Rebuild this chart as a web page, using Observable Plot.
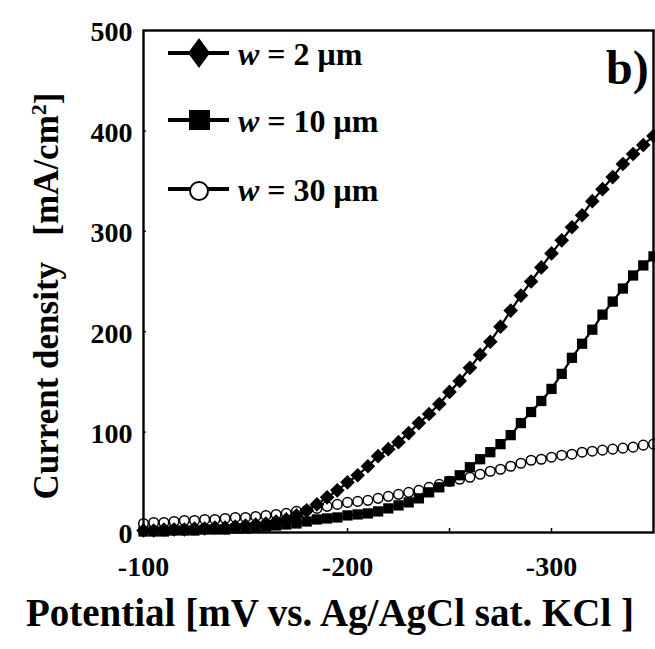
<!DOCTYPE html>
<html><head><meta charset="utf-8">
<script src="https://cdn.jsdelivr.net/npm/d3@7"></script>
<script src="https://cdn.jsdelivr.net/npm/@observablehq/plot@0.6"></script>
<style>body{margin:0;background:#fff}</style>
</head><body><div id="chart"></div>
<script>
// Potential [mV vs. Ag/AgCl sat. KCl]
const potential = [-100,-105,-110,-115,-120,-125,-130,-135,-140,-145,-150,-155,-160,-165,-170,-175,-180,-185,-190,-195,-200,-205,-210,-215,-220,-225,-230,-235,-240,-245,-250,-255,-260,-265,-270,-275,-280,-285,-290,-295,-300,-305,-310,-315,-320,-325,-330,-335,-340,-345,-350];
// Current density [mA/cm2]
const w2  = [2,2,3,3,3,4,4,5,5,6,7,8,9,11,13,17,22,28,35,42,50,57,66,76,83,90,99,109,118,128,140,151,164,177,190,205,221,236,250,264,278,291,304,316,330,342,354,367,377,386,395];
const w10 = [1,1,1,2,2,2,3,3,3,4,4,5,6,7,8,9,11,13,14,15,17,18,19,21,24,27,30,34,40,45,51,57,65,73,80,88,97,109,120,131,143,158,174,188,202,217,230,243,256,266,275];
const w30 = [9,10,10,11,12,12,13,13,14,15,15,16,17,18,19,21,22,24,26,28,30,31,32,34,36,38,40,42,45,48,51,53,55,58,61,63,66,69,72,73,75,77,78,80,81,82,83,84,85,87,88];

const seriesLabels = ["2", "10", "30"];
const xTickLabels = [-100, -200, -300];
const xTickMarks = [-150, -200, -250, -300];
const yTickLabels = [0, 100, 200, 300, 400, 500];
const yTickMarks = [100, 200, 300, 400];

const toRows = arr => potential.map((p, i) => ({p, v: arr[i]}));
const d2 = toRows(w2), d10 = toRows(w10), d30 = toRows(w30);

const font = "'Liberation Serif', 'Times New Roman', serif";

const plot = Plot.plot({
  width: 655, height: 649,
  marginLeft: 143, marginRight: 2, marginTop: 30, marginBottom: 117,
  style: {fontFamily: font, fontWeight: "bold", background: "white", color: "black"},
  x: {domain: [-100, -350]},
  y: {domain: [0, 500]},
  marks: [
    Plot.axisX({ticks: xTickLabels, tickSize: 0, tickPadding: 24, fontSize: 28, label: null, tickFormat: d => String(d)}),
    Plot.axisY({ticks: yTickLabels, tickSize: 0, tickPadding: 11, dy: 2, fontSize: 28, label: null, tickFormat: d => String(d)}),
    Plot.ruleX(xTickMarks, {x: d => d, y1: 0, y2: 4, stroke: "black", strokeWidth: 1.5}),
    Plot.ruleY(yTickMarks, {y: d => d, x1: -100, x2: -101.5, stroke: "black", strokeWidth: 1.2}),
    Plot.line(d30, {x: "p", y: "v", stroke: "black", strokeWidth: 2}),
    Plot.dot(d30, {x: "p", y: "v", symbol: "circle", r: 4.8, fill: "white", stroke: "black", strokeWidth: 1.5}),
    Plot.line(d10, {x: "p", y: "v", stroke: "black", strokeWidth: 2.2}),
    Plot.dot(d10, {x: "p", y: "v", symbol: "square", r: 5.8, fill: "black", stroke: "none"}),
    Plot.line(d2, {x: "p", y: "v", stroke: "black", strokeWidth: 2.2}),
    Plot.dot(d2, {x: "p", y: "v", symbol: "diamond2", r: 6.6, fill: "black", stroke: "none"}),
    Plot.frame({stroke: "black", strokeWidth: 2.4})
  ]
});

const svg = d3.select(plot);
// Legend
const legendY = [53, 120, 189];
const lg = svg.append("g").attr("font-family", font).attr("font-weight", "bold").attr("text-anchor", "start");
seriesLabels.forEach((lab, i) => {
  const y = legendY[i];
  lg.append("line").attr("x1", 168).attr("x2", 229).attr("y1", y).attr("y2", y)
    .attr("stroke", "black").attr("stroke-width", 4);
  if (i === 0) {
    lg.append("path").attr("d", `M199,${y-15}L210,${y}L199,${y+15}L188,${y}Z`).attr("fill", "black");
  } else if (i === 1) {
    lg.append("rect").attr("x", 189).attr("y", y - 10).attr("width", 21).attr("height", 20).attr("fill", "black");
  } else {
    lg.append("circle").attr("cx", 199).attr("cy", y + 2).attr("r", 9).attr("fill", "white")
      .attr("stroke", "black").attr("stroke-width", 2);
  }
  const t = lg.append("text").attr("x", 238).attr("y", y + 12).attr("font-size", 32).attr("text-anchor", "start");
  t.append("tspan").attr("font-style", "italic").text("w");
  t.append("tspan").text(" = " + lab + " \u03bcm");
});
// panel tag
svg.append("text").attr("x", 606).attr("y", 84).attr("font-family", font).attr("text-anchor", "start")
  .attr("font-weight", "bold").attr("font-size", 48).text("b)");
// y label
const yl = svg.append("text").attr("transform", "translate(58,296) rotate(-90)")
  .attr("text-anchor", "middle").attr("font-family", font).attr("font-weight", "bold")
  .attr("font-size", 35);
yl.append("tspan").text("Current density\u00a0\u00a0 [mA/cm");
yl.append("tspan").attr("font-size", 22).attr("dy", "-0.55em").text("2");
yl.append("tspan").attr("dy", "0.37em").text("]");
// x label
svg.append("text").attr("x", 330).attr("y", 626).attr("text-anchor", "middle")
  .attr("font-family", font).attr("font-weight", "bold").attr("font-size", 39)
  .text("Potential [mV vs. Ag/AgCl sat. KCl ]");

document.getElementById("chart").appendChild(plot);
</script>
</body></html>
